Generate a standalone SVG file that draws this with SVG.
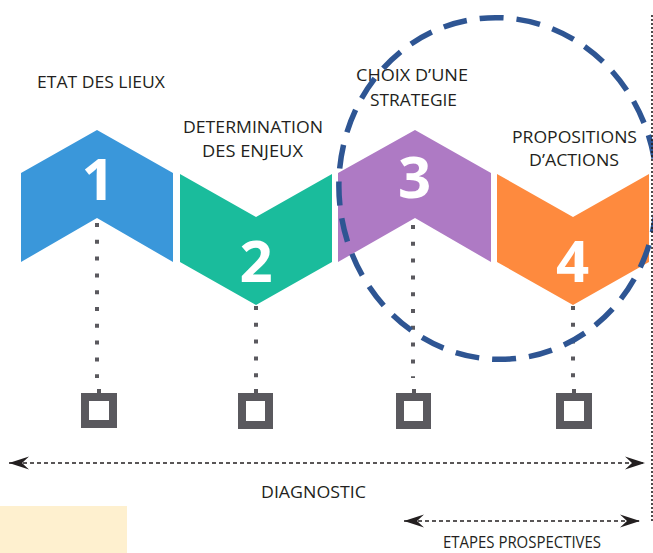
<svg xmlns="http://www.w3.org/2000/svg" width="653" height="553" viewBox="0 0 653 553">
  <defs>
    <style>
      .lbl { font-family: "Open Sans", "Liberation Sans", sans-serif; font-size: 17px; fill: #231f20; text-anchor: middle; }
      .num { font-family: "Open Sans", "Liberation Sans", sans-serif; font-size: 58px; font-weight: 700; fill: #ffffff; text-anchor: middle; }
      .dots { stroke: #5a595e; stroke-width: 4; stroke-dasharray: 4 12.8; fill: none; }
      .box { fill: none; stroke: #5a595e; stroke-width: 8; }
      .tick { fill: #5a595e; }
      .span { stroke: #231f20; stroke-width: 1.6; stroke-dasharray: 4 3; fill: none; }
    </style>
    <marker id="head" viewBox="0 0 20 14" refX="20" refY="7" markerWidth="20" markerHeight="14" markerUnits="userSpaceOnUse" orient="auto-start-reverse">
      <path d="M20,7 L0,0.5 L7,7 L0,13.5 Z" fill="#231f20"/>
    </marker>
  </defs>

  <rect x="0" y="506" width="127" height="47" fill="#fef0cf"/>

  <g id="step1">
    <polygon points="21,173 97,130 173,173 173,262 97,218 21,262" fill="#3a97da"/>
    <text class="num" x="98" y="200">1</text>
    <text class="lbl" x="101" y="88" textLength="128" lengthAdjust="spacingAndGlyphs">ETAT DES LIEUX</text>
  </g>
  <g id="step2">
    <polygon points="180,174 256,217 332,174 332,262 256,305 180,262" fill="#1abc9c"/>
    <text class="num" x="256" y="282">2</text>
    <text class="lbl" x="253" y="133" textLength="140" lengthAdjust="spacingAndGlyphs">DETERMINATION</text>
    <text class="lbl" x="252.5" y="157" textLength="101" lengthAdjust="spacingAndGlyphs">DES ENJEUX</text>
  </g>
  <g id="step3">
    <polygon points="338,173 415,130 491,173 491,262 415,218 338,262" fill="#ae7ac4"/>
    <text class="num" x="414.5" y="198">3</text>
    <text class="lbl" x="412" y="81" textLength="112" lengthAdjust="spacingAndGlyphs">CHOIX D’UNE</text>
    <text class="lbl" x="413.5" y="106" textLength="87" lengthAdjust="spacingAndGlyphs">STRATEGIE</text>
  </g>
  <g id="step4">
    <polygon points="497,174 573,217 649,174 649,262 573,305 497,262" fill="#fe8a3e"/>
    <text class="num" x="572.5" y="282">4</text>
    <text class="lbl" x="574.5" y="143" textLength="125" lengthAdjust="spacingAndGlyphs">PROPOSITIONS</text>
    <text class="lbl" x="574" y="166" textLength="90" lengthAdjust="spacingAndGlyphs">D’ACTIONS</text>
  </g>

  <g id="markers">
    <g id="marker1">
      <line class="dots" x1="97" y1="223" x2="97" y2="378"/>
      <rect class="tick" x="97" y="389" width="4" height="5"/>
      <rect class="box" x="85" y="397" width="28" height="27"/>
    </g>
    <g id="marker2">
      <line class="dots" x1="256" y1="306" x2="256" y2="378"/>
      <rect class="tick" x="254" y="389" width="4" height="5"/>
      <rect class="box" x="242" y="397" width="27" height="28"/>
    </g>
    <g id="marker3">
      <line class="dots" x1="413" y1="225" x2="413" y2="378"/>
      <rect class="tick" x="412" y="389" width="4" height="5"/>
      <rect class="box" x="400" y="397" width="27" height="28"/>
    </g>
    <g id="marker4">
      <line class="dots" x1="573" y1="306" x2="573" y2="378"/>
      <rect class="tick" x="572" y="389" width="4" height="5"/>
      <rect class="box" x="560" y="397" width="28" height="28"/>
    </g>
  </g>

  <g id="focus">
    <ellipse cx="498" cy="188.5" rx="159" ry="171" fill="none" stroke="#2e5593" stroke-width="5.5" stroke-dasharray="24 13" transform="rotate(-6 498 188.5)"/>
  </g>

  <g id="connectors">
    <line x1="652" y1="15" x2="652" y2="523" stroke="#231f20" stroke-width="1.6" stroke-dasharray="2 2"/>
    <line class="span" x1="9" y1="463" x2="645" y2="463" marker-start="url(#head)" marker-end="url(#head)"/>
    <line class="span" x1="404" y1="521" x2="640" y2="521" marker-start="url(#head)" marker-end="url(#head)"/>
  </g>

  <g id="spans">
    <text class="lbl" x="313.5" y="498" textLength="105" lengthAdjust="spacingAndGlyphs">DIAGNOSTIC</text>
    <text class="lbl" x="522" y="548" style="font-size:16px" textLength="158" lengthAdjust="spacingAndGlyphs">ETAPES PROSPECTIVES</text>
  </g>
</svg>
